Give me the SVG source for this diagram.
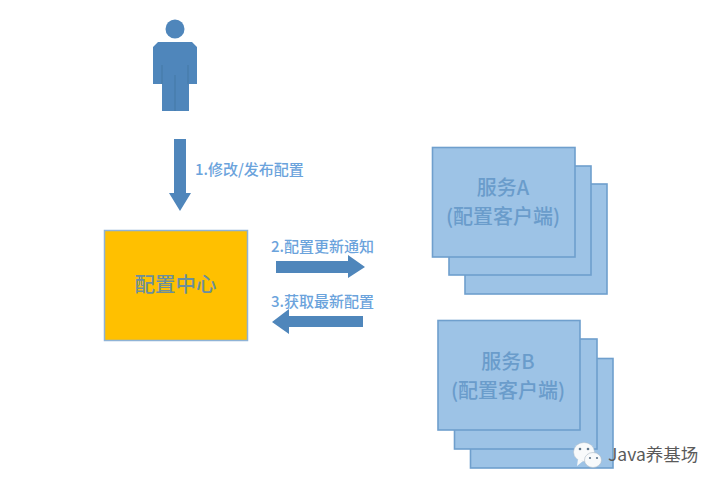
<svg xmlns="http://www.w3.org/2000/svg" width="724" height="488" viewBox="0 0 724 488">
<style>
text{font-family:"Noto Sans CJK SC","Liberation Sans",sans-serif}
.lbl{font-size:15px;fill:#6ba3dc;font-weight:500}
.svc{font-size:20px;fill:#6a9ccb;text-anchor:middle;font-weight:500}
.card{fill:#9dc3e6;stroke:#6f9fcd;stroke-width:1.6}
.ar{fill:#4f86bb}
</style>
<rect width="724" height="488" fill="#fff"/>
<g id="person">
<circle cx="175" cy="29" r="9.5" fill="#4f86bb"/>
<path class="ar" d="M158 42H192L197 47V84H189V111H162V84H153V47Z"/>
<path d="M162 65V84M175 75V111M188 65V84" stroke="#41749f" stroke-width="0.7" fill="none"/>
</g>
<g id="connectors">
<path class="ar" d="M174 139H186V193H191L180 211L169 193H174Z"/>
<path class="ar" d="M276 261H348V255L365 267L348 278V273H276Z"/>
<path class="ar" d="M363 316H289V309L272 322L289 334V327H363Z"/>
<text class="lbl" x="195" y="175">1.修改/发布配置</text>
<text class="lbl" x="271" y="252">2.配置更新通知</text>
<text class="lbl" x="271" y="307">3.获取最新配置</text>
</g>
<g id="config-center">
<rect x="104.500" y="230.500" width="143" height="110" fill="#ffc000" stroke="#8fb3d6" stroke-width="1.500"/>
<text x="175.500" y="292" font-size="20.500" fill="#6c8f9c" text-anchor="middle" font-weight="500">配置中心</text>
</g>
<g id="service-a">
<rect class="card" x="465" y="184" width="142" height="110"/>
<rect class="card" x="449" y="166" width="142" height="109"/>
<rect class="card" x="432.500" y="147.500" width="142.500" height="109.500"/>
<text class="svc" x="503" y="195">服务A</text>
<text class="svc" x="503" y="224">(配置客户端)</text>
</g>
<g id="service-b">
<rect class="card" x="470.500" y="358.500" width="142.500" height="109.500"/>
<rect class="card" x="454.500" y="339" width="142.500" height="110"/>
<rect class="card" x="438" y="320.500" width="142" height="109.500"/>
<text class="svc" x="508" y="369">服务B</text>
<text class="svc" x="508" y="398">(配置客户端)</text>
</g>
<g id="watermark">
<ellipse cx="584" cy="452" rx="10.500" ry="9.500" fill="#f8fafb" stroke="#aebcc8" stroke-width="0.500"/>
<path d="M578 459L577 466L583 461Z" fill="#f8fafb"/>
<ellipse cx="593" cy="460" rx="8.500" ry="7.500" fill="#f8fafb" stroke="#aebcc8" stroke-width="0.600"/>
<circle cx="580" cy="449" r="1.300" fill="#5f778c"/><circle cx="588" cy="449" r="1.300" fill="#5f778c"/>
<circle cx="590" cy="458" r="1.100" fill="#5f778c"/><circle cx="597" cy="458" r="1.100" fill="#5f778c"/>
<text x="608" y="461" font-size="17.500" fill="#5a5a5a">Java养基场</text>
</g>
</svg>
